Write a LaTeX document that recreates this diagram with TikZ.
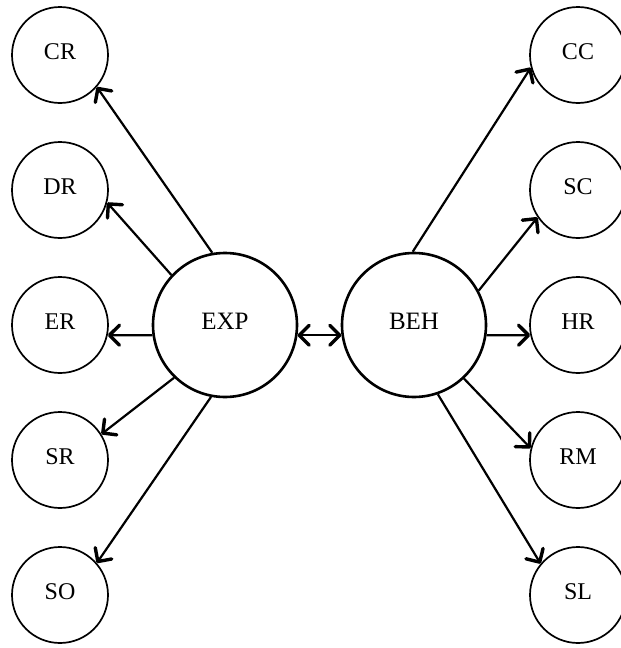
\documentclass[tikz,border=0pt]{standalone}
\usepackage{fontspec}
\setmainfont{Liberation Serif}
\usetikzlibrary{arrows.meta}
\begin{document}
\begin{tikzpicture}[x=1pt,y=-1pt,
 small/.style={circle,draw,line width=1.7pt,minimum size=96pt,inner sep=0pt,font=\fontsize{24}{24}\selectfont,text depth=6pt},
 big/.style={circle,draw,line width=2.6pt,minimum size=144pt,inner sep=0pt,font=\fontsize{25}{25}\selectfont,text depth=7pt},
 tipstyle/.tip={Straight Barb[length=10pt,width=20pt,line width=3.4pt,round]},
 conn/.style={line width=2.2pt,-tipstyle},
 both/.style={line width=2.2pt,tipstyle-tipstyle},
]
\useasboundingbox (0,0) rectangle (621,648);
\clip (0,0) rectangle (621,648);
\node[small] (CR) at (60,55) {CR};
\node[small] (DR) at (60,190) {DR};
\node[small] (ER) at (60,325) {ER};
\node[small] (SR) at (60,460) {SR};
\node[small] (SO) at (60,595) {SO};
\node[small] (CC) at (578,55) {CC};
\node[small] (SC) at (578,190) {SC};
\node[small] (HR) at (578,325) {HR};
\node[small] (RM) at (578,460) {RM};
\node[small] (SL) at (578,595) {SL};
\node[big] (EXP) at (225,325) {EXP};
\node[big] (BEH) at (414,325) {BEH};
\draw[conn] (EXP.100.8) -- (CR.-41);
\draw[conn] (EXP.137) -- (DR.-15);
\draw[conn] (EXP.188) -- (ER.-12);
\draw[conn] (EXP.226) -- (SR.32);
\draw[conn] (EXP.259) -- (SO.41);
\draw[both] (EXP.-8) -- (BEH.188);
\draw[conn] (BEH.91) -- (CC.195);
\draw[conn] (BEH.28) -- (SC.214);
\draw[conn] (BEH.-8) -- (HR.192);
\draw[conn] (BEH.-47) -- (RM.166);
\draw[conn] (BEH.-71) -- (SL.140);
\end{tikzpicture}
\end{document}
